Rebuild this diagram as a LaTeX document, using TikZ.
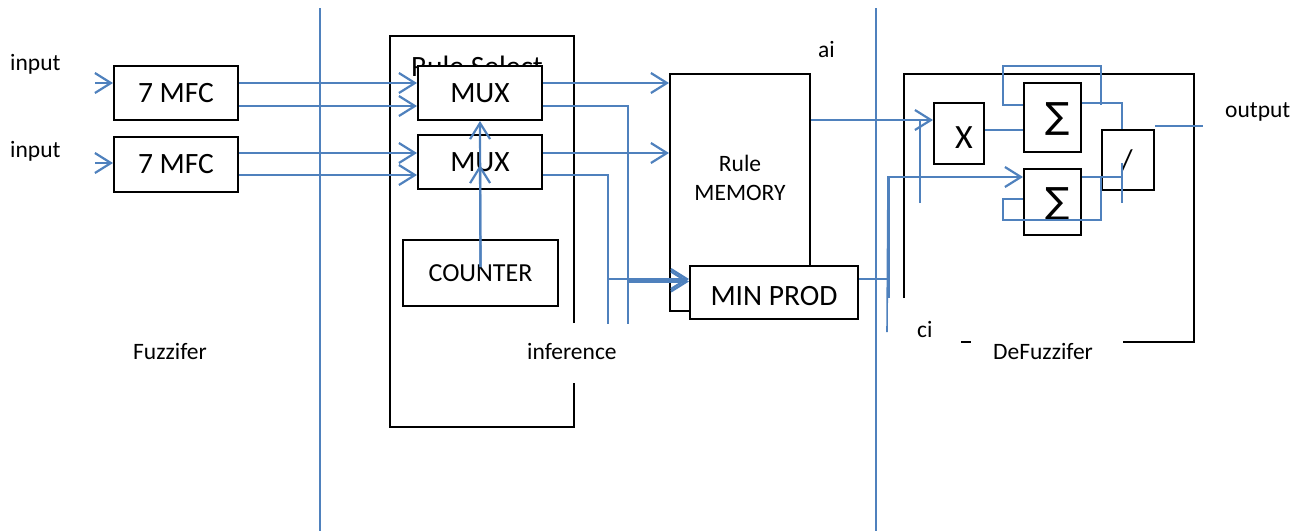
\documentclass[tikz,border=0pt]{standalone}
\usepackage{fontspec}
\setmainfont{Carlito}
\newfontfamily\symfont{DejaVu Sans}
\usetikzlibrary{arrows.meta}
\definecolor{wireblue}{HTML}{4F81BD}
\newcommand\boxtxt{\fontsize{29.5}{32}\selectfont}
\newcommand\lbltxt{\fontsize{23.5}{26}\selectfont}
\begin{document}
\begin{tikzpicture}[x=1pt,y=-1pt,
  blk/.style={draw=black,line width=2pt,fill=white,inner sep=0pt,font=\boxtxt},
  lbl/.style={inner sep=0pt,anchor=base west,font=\lbltxt},
  txt/.style={inner sep=0pt,font=\boxtxt},
  wire/.style={draw=wireblue,line width=2.2pt},
  thinwire/.style={draw=wireblue,line width=1.6pt},
  sepline/.style={draw=wireblue,line width=1.8pt},
  arr/.style={-{Straight Barb[length=16pt,width=20pt]}},
  frame/.style={draw=black,line width=2pt}]
\useasboundingbox (0,0) rectangle (1306,531);

% stage separators
\draw[sepline] (320,8) -- (320,531);
\draw[sepline] (876,8) -- (876,531);

% inference frame (open where the label sits)
\draw[frame] (574,323) -- (574,36) -- (390,36) -- (390,427) -- (574,427) -- (574,383);
\node[txt,anchor=base west] (rsel) at (411,76) {Rule Select};

% defuzzifier frame
\draw[frame] (904,298) -- (904,74) -- (1194,74) -- (1194,342) -- (1123,342);
\draw[frame] (961,342) -- (971,342);

% blocks
\node[blk,minimum width=124pt,minimum height=54pt] (mfcA) at (176,93) {7 MFC};
\node[blk,minimum width=124pt,minimum height=55pt] (mfcB) at (176,164.5) {7 MFC};
\node[blk,minimum width=124pt,minimum height=54pt] (muxA) at (480,93) {MUX};
\node[blk,minimum width=124pt,minimum height=54pt] (muxB) at (480,162) {MUX};
\node[blk,minimum width=155pt,minimum height=66pt,font=\fontsize{26}{28}\selectfont] (counter) at (480.5,273) {COUNTER};
\node[blk,minimum width=140pt,minimum height=237pt] (mem) at (740,192.5) {};
\node[inner sep=0pt,font=\lbltxt,align=center] (memtxt) at (740,178) {Rule\\[3pt]MEMORY};
\node[blk,minimum width=168pt,minimum height=53pt] (minprod) at (774,292.5) {};
\node[txt] (minprodtxt) at (774,296) {MIN PROD};
\node[blk,minimum width=50pt,minimum height=61pt] (xmul) at (959,133.5) {};
\node[inner sep=0pt,font=\fontsize{34}{36}\selectfont] (xtxt) at (964,138) {X};
\node[blk,minimum width=57pt,minimum height=69pt] (sumA) at (1052.5,117.5) {};
\node[blk,minimum width=57pt,minimum height=66pt] (sumB) at (1052.5,202) {};
\node[inner sep=0pt,font=\symfont\fontsize{36}{38}\selectfont] (sumAtxt) at (1058,119) {∑};
\node[inner sep=0pt,font=\symfont\fontsize{36}{38}\selectfont] (sumBtxt) at (1058,204) {∑};
\node[blk,minimum width=52pt,minimum height=60pt] (divide) at (1128,160) {};
\node[inner sep=0pt,font=\fontsize{30}{32}\selectfont] (divtxt) at (1127,161) {/};

% labels
\node[lbl] (inLblA) at (10,70) {input};
\node[lbl] (inLblB) at (10,157) {input};
\node[lbl] (fuzzLbl) at (133,359) {Fuzzifer};
\node[lbl] (infLbl) at (527,359) {inference};
\node[lbl] (aiLbl) at (818,57) {ai};
\node[lbl] (ciLbl) at (917,337) {ci};
\node[lbl] (defLbl) at (993,359) {DeFuzzifer};
\node[lbl] (outLbl) at (1225,117) {output};

% free ends
\coordinate (inA) at (95,83);
\coordinate (inB) at (95,163);
\coordinate (tapA) at (628,324);
\coordinate (tapB) at (608,324);
\coordinate (ciX) at (888,177);
\coordinate (ciEndA) at (887,332);
\coordinate (ciEndB) at (889,298);
\coordinate (stubA) at (920,203);
\coordinate (divX) at (1122,203);
\coordinate (outEnd) at (1203,126);

% fuzzifier inputs
\draw[wire,arr] (inA) -- (inA -| mfcA.west);
\draw[wire,arr] (inB) -- (inB -| mfcB.west);

% membership values to the multiplexers
\draw[wire,arr] ([yshift=10pt]mfcA.east) -- ([yshift=10pt]mfcA.east -| muxA.west);
\draw[wire,arr] ([yshift=-13pt]mfcA.east) -- ([yshift=-13pt]mfcA.east -| muxA.west);
\draw[wire,arr] ([yshift=11.5pt]mfcB.east) -- ([yshift=11.5pt]mfcB.east -| muxB.west);
\draw[wire,arr] ([yshift=-10.5pt]mfcB.east) -- ([yshift=-10.5pt]mfcB.east -| muxB.west);

% counter drives the selects
\draw[wire,arr] ([yshift=6pt]counter.center) -- (muxA.south);
\draw[wire,arr] ([yshift=6pt]counter.center) -- ([yshift=-3pt]muxB.center);

% multiplexers to rule memory
\draw[wire,arr] ([yshift=10pt]muxA.east) -- ([yshift=10pt]muxA.east -| mem.west);
\draw[wire,arr] ([yshift=9pt]muxB.east) -- ([yshift=9pt]muxB.east -| mem.west);

% multiplexers to MIN PROD
\draw[wire] ([yshift=-13pt]muxA.east) -| (tapA);
\draw[wire] ([yshift=-13pt]muxB.east) -| (tapB);
\draw[wire,arr] ([yshift=13.5pt]minprod.west -| tapB) -- ([yshift=13.5pt]minprod.west);
\draw[wire,arr] ([yshift=11pt]minprod.west -| tapA) -- ([yshift=11pt]minprod.west);

% ai path
\draw[wire,arr] ([yshift=72.5pt]mem.east) -- ([yshift=72.5pt]mem.east -| xmul.west);
\draw[wire] (stubA) -- ([yshift=72.5pt]mem.east -| stubA);

% ci path
\draw[wire,arr] ([yshift=13.5pt]minprod.east) -| (ciX) -- (ciX -| sumB.west);
\draw[thinwire] (ciX) -- (ciEndA);
\draw[thinwire] (ciX -| ciEndB) -- (ciEndB);

% defuzzifier internals
\draw[wire,line width=1.8pt] ([yshift=3.5pt]xmul.east) -- ([yshift=3.5pt]xmul.east -| sumA.west);
\draw[thinwire] ([yshift=12.5pt]sumA.west) -- ++(-20,0) -- ++(0,-39) -- ++(98,0) -- ++(0,39);
\draw[thinwire] ([yshift=14.5pt]sumA.east) -| ([xshift=-6pt]divide.north);
\draw[thinwire] ([yshift=25pt]sumB.east) -- ([yshift=25pt]sumB.east -| divX);
\draw[thinwire] ([yshift=-3pt]divide.center -| divX) -- (divX);
\draw[thinwire] ([yshift=3pt]sumB.west) -- ++(-20,0) -- ++(0,21) -- ++(98,0) -- ++(0,-43);
\draw[wire] (divide.east |- outEnd) -- (outEnd);
\end{tikzpicture}
\end{document}
